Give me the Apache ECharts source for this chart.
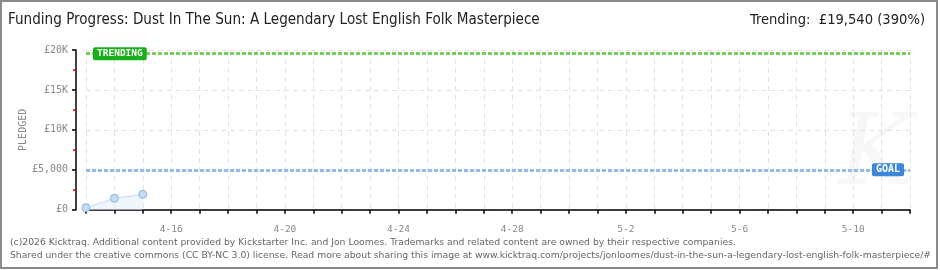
<!DOCTYPE html>
<html><head><meta charset="utf-8">
<script src="https://cdn.jsdelivr.net/npm/echarts@6/dist/echarts.min.js"></script>
<style>html,body{margin:0;padding:0;background:#fff}#c{width:940px;height:270px}</style>
</head><body><div id="c"></div>
<script>
const titleText = 'Funding Progress: Dust In The Sun: A Legendary Lost English Folk Masterpiece';
const trendingText = 'Trending:  £19,540 (390%)';
const footer1 = '(c)2026 Kicktraq. Additional content provided by Kickstarter Inc. and Jon Loomes. Trademarks and related content are owned by their respective companies.';
const footer2 = 'Shared under the creative commons (CC BY-NC 3.0) license. Read more about sharing this image at www.kicktraq.com/projects/jonloomes/dust-in-the-sun-a-legendary-lost-english-folk-masterpiece/#';
const categories = ['4-13','4-14','4-15','4-16','4-17','4-18','4-19','4-20','4-21','4-22','4-23','4-24','4-25','4-26','4-27','4-28','4-29','4-30','5-1','5-2','5-3','5-4','5-5','5-6','5-7','5-8','5-9','5-10','5-11','5-12'];
const pledged = [250, 1430, 1930];
const goalValue = 5000;
const trendingValue = 19540;
const yTickLabels = {0:'£0',5000:'£5,000',10000:'£10K',15000:'£15K',20000:'£20K'};

function fitSize(text, family, weight, target){
  const cv = document.createElement('canvas').getContext('2d');
  cv.font = weight + ' 100px ' + family;
  return 100 * target / cv.measureText(text).width;
}
const titleFam = '"Liberation Sans Narrow", "DejaVu Sans Condensed", sans-serif';
const titleSize = fitSize(titleText, titleFam, 'normal', 532);
const trendSize = fitSize(trendingText, titleFam, 'normal', 175);
const footFam = '"DejaVu Sans", Verdana, sans-serif';
const footSize = fitSize(footer1, footFam, 'normal', 727);

const mono = '"DejaVu Sans Mono", monospace';
const chart = echarts.init(document.getElementById('c'));
const seriesData = categories.map((c,i)=> i < pledged.length ? pledged[i] : null);
chart.setOption({
  animation:false,
  backgroundColor:'#fff',
  grid:{left:86,right:30,top:50,bottom:60.3,containLabel:false},
  xAxis:{type:'category',data:categories,boundaryGap:false,offset:10,
    axisLine:{lineStyle:{color:'#000',width:1.5}},
    axisTick:{interval:0,length:4,lineStyle:{color:'#000',width:1.5}},
    axisLabel:{interval:(i)=> (i-3)%4===0 && i>=3, color:'#888',fontFamily:mono,fontSize:9.5,margin:5},
    splitLine:{show:true,interval:0,lineStyle:{color:'#e2e2e2',type:[5,4],width:1}}},
  yAxis:{type:'value',min:0,max:20000,interval:5000,offset:10,
    name:'PLEDGED',nameLocation:'middle',nameGap:48,nameRotate:90,nameMoveOverlap:false,
    nameTextStyle:{color:'#888',fontFamily:mono,fontSize:10},
    axisLine:{show:true,lineStyle:{color:'#000',width:1.5}},
    axisTick:{show:true,length:4,lineStyle:{color:'#000',width:1.5}},
    minorTick:{show:true,splitNumber:2,length:3,lineStyle:{color:'#e00000',width:1.5}},
    axisLabel:{formatter:(v)=>yTickLabels[v],color:'#888',fontFamily:mono,fontSize:10,margin:8},
    splitLine:{show:true,lineStyle:{color:'#e2e2e2',type:[5,4],width:1}}},
  graphic:[
    {type:'rect',shape:{x:1,y:1,width:936,height:267},style:{fill:null,stroke:'#8a8a8a',lineWidth:2},silent:true},
    {type:'text',left:8,top:13,style:{text:titleText,font:'normal '+titleSize.toFixed(2)+'px '+titleFam,fill:'#222'}},
    {type:'text',right:15,top:13,style:{text:trendingText,font:'normal '+trendSize.toFixed(2)+'px '+titleFam,fill:'#222'}},
    {type:'text',left:10,top:238,style:{text:footer1,font:'normal '+footSize.toFixed(2)+'px '+footFam,fill:'#666'}},
    {type:'text',left:10,top:251,style:{text:footer2,font:'normal '+footSize.toFixed(2)+'px '+footFam,fill:'#666'}},
    {type:'text',left:838,top:108,z:-10,style:{text:'K',font:'italic 100px "DejaVu Serif", serif',fill:'#f7f7f7'}}
  ],
  series:[{
    type:'line',data:seriesData,symbol:'circle',symbolSize:8,connectNulls:false,
    lineStyle:{color:'#c4dbf3',width:1},
    itemStyle:{color:'#c6dcf6',borderColor:'#8fb2dc',borderWidth:1},
    areaStyle:{color:'#e8f1fc'},
    markLine:{symbol:'none',silent:true,
      data:[
        {yAxis:trendingValue,lineStyle:{color:'#74d058',type:[4,2],width:3},
          label:{show:true,formatter:'TRENDING',position:'insideStart',distance:[7,0],color:'#fff',
            backgroundColor:'#18b018',borderRadius:2,padding:[2,4,1,4],fontFamily:mono,fontWeight:'bold',fontSize:9.5}},
        {yAxis:goalValue,lineStyle:{color:'#93bde8',type:[4,2],width:3},
          label:{show:true,formatter:'GOAL',position:'insideEnd',distance:[6,0],color:'#fff',
            backgroundColor:'#3d87d8',borderRadius:2,padding:[2,4,1,4],fontFamily:mono,fontWeight:'bold',fontSize:10}}
      ]}
  }]
});
</script></body></html>
